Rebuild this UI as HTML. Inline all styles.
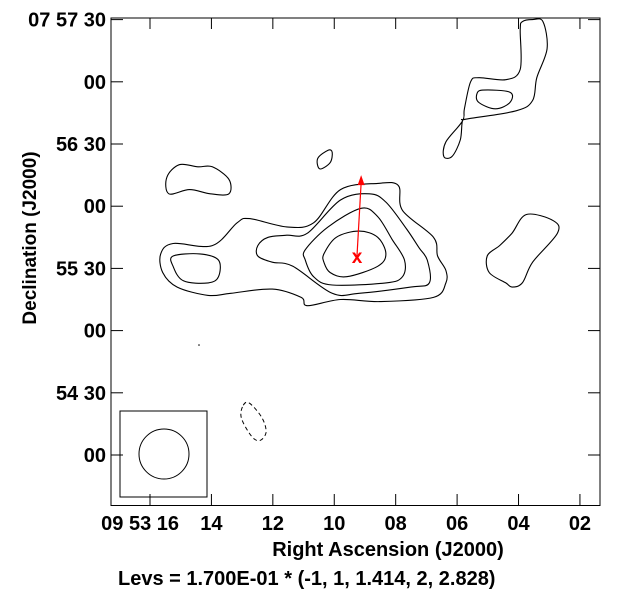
<!DOCTYPE html>
<html><head><meta charset="utf-8"><style>
html,body{margin:0;padding:0;background:#fff}
svg text{font-family:"Liberation Sans",Arial,sans-serif;font-weight:bold;font-size:20px;fill:#000}
</style></head><body>
<svg id="chart" width="629" height="598" viewBox="0 0 629 598" xmlns="http://www.w3.org/2000/svg">
<rect x="111" y="18" width="489" height="487.5" fill="none" stroke="#000" stroke-width="1"/>
<g id="ticks"></g>
<g id="contours"></g>
<rect x="120" y="411" width="87" height="86" fill="none" stroke="#000"/>
<circle cx="164" cy="454" r="25" fill="none" stroke="#000"/>
<circle cx="199" cy="345" r="0.8" fill="#000"/>
<text x="388" y="556" text-anchor="middle">Right Ascension (J2000)</text>
<text x="0" y="0" text-anchor="middle" transform="translate(36,238) rotate(-90)" style="font-size:19px">Declination (J2000)</text>
<text x="118" y="585">Levs = 1.700E-01 * (-1, 1, 1.414, 2, 2.828)</text>
</svg>
<script>
const xTickSec=[16,14,12,10,8,6,4,2];
const xTickLabels=["09 53 16","14","12","10","08","06","04","02"];
const yTickDec=[210,180,150,120,90,60,30,0];
const yTickLabels=["07 57 30","00","56 30","00","55 30","00","54 30","00"];
// source position (RA seconds, Dec arcsec above 07 54 00)
const srcRA=9.26, srcDec=96;
// contours: offsets [east arcsec, north arcsec] from source
const outer1=[[95,1],[89,6],[70,5],[58,16],[52,18],[34,14],[21,16],[8,32],[-10,35],[-20,34],[-22,22],[-37,9],[-39,0],[-43,-7],[-43,-13],[-37,-20],[-11,-22],[8,-21],[24,-24],[27,-20],[41,-16],[61,-18],[72,-19],[87,-15],[94,-8]];
const island1=[[89,0],[76,1],[67,-2],[67,-10],[72,-13],[84,-12],[89,-5]];
const level2=[[48,5],[43,9],[34,10],[24,11],[8,27],[-6,30],[-14,26],[-24,13],[-30,4],[-34,-2],[-35,-13],[-26,-15],[-1,-18],[12,-18],[31,-5],[41,-3],[48,0]];
const level3=[[25,3],[14,14],[-2,23],[-10,19],[-17,8],[-23,-2],[-22,-10],[-14,-13],[12,-14],[21,-10],[25,-2]];
const level4=[[16,1],[10,9],[-1,12],[-10,9],[-14,1],[-10,-5],[5,-10],[13,-8],[16,-3]];
const blobNW=[[92,38],[86,44],[77,43],[70,43],[62,37],[62,30],[71,30],[81,32],[91,30]];
const blobSmall=[[19,47],[14,51],[12,50],[13,45],[18,42]];
const blobNE=[[-80,113],[-85,114],[-90,113],[-92,100],[-87,86],[-85,75],[-77,70],[-53,66],[-51,65],[-50,56],[-46,48],[-42,48],[-43,55],[-51,65],[-52,71],[-55,84],[-59,86],[-72,85],[-79,90],[-79,109]];
const blobNEinner=[[-58,78],[-61,80],[-74,79],[-74,74],[-67,71],[-59,74]];
const blobE=[[-82,20],[-95,17],[-97,11],[-85,-3],[-80,-13],[-75,-15],[-72,-13],[-64,-8],[-63,0],[-69,5],[-75,11]];
const negBlob=[[55,-72],[52,-71],[46,-78],[44,-85],[47,-89],[51,-87],[56,-78]];
const arrowTip=[-2,39];

const NS="http://www.w3.org/2000/svg";
function xS(s){return 150+(16-s)*30.71;}
function yS(d){return 455-d*2.0733;}
function offX(e){return xS(srcRA+e/14.86);}
function offY(n){return yS(srcDec+n);}
function mk(tag,attrs,parent){const el=document.createElementNS(NS,tag);for(const k in attrs)el.setAttribute(k,attrs[k]);parent.appendChild(el);return el;}
const tg=document.getElementById('ticks');
xTickSec.forEach((s,i)=>{
  const x=xS(s);
  const t1=mk('line',{x1:x,y1:505.5,x2:x,y2:494,stroke:'#000'},tg);
  
  
  const t2=mk('line',{x1:x,y1:18,x2:x,y2:29,stroke:'#000'},tg);
  
  
  const tx=mk('text',{x:i===0?x+29:x,y:530,'text-anchor':i===0?'end':'middle'},tg);
  tx.textContent=xTickLabels[i];
  
  
});
yTickDec.forEach((d,i)=>{
  const y=yS(d);
  const t1=mk('line',{x1:111,y1:y,x2:123,y2:y,stroke:'#000'},tg);
  
  
  const t2=mk('line',{x1:588,y1:y,x2:600,y2:y,stroke:'#000'},tg);
  
  
  const tx=mk('text',{x:106,y:y+7,'text-anchor':'end'},tg);
  tx.textContent=yTickLabels[i];
  
  
});
function smooth(pts){
  const p=pts.map(a=>[offX(a[0]),offY(a[1])]);const n=p.length;
  let d='M'+p[0][0].toFixed(1)+','+p[0][1].toFixed(1);
  for(let i=0;i<n;i++){
    const p0=p[(i-1+n)%n],p1=p[i],p2=p[(i+1)%n],p3=p[(i+2)%n];
    const c1=[p1[0]+(p2[0]-p0[0])/6,p1[1]+(p2[1]-p0[1])/6];
    const c2=[p2[0]-(p3[0]-p1[0])/6,p2[1]-(p3[1]-p1[1])/6];
    d+=' C'+c1.map(v=>v.toFixed(1))+' '+c2.map(v=>v.toFixed(1))+' '+p2.map(v=>v.toFixed(1));
  }
  return d+'Z';
}
const cg=document.getElementById('contours');
const list=[[outer1,'contour-level-1'],[island1,'contour-west-island'],[level2,'contour-level-2'],[level3,'contour-level-3'],[level4,'contour-level-4'],[blobNW,'contour-nw-blob'],[blobSmall,'contour-small-blob'],[blobNE,'contour-ne-blob'],[blobNEinner,'contour-ne-inner'],[blobE,'contour-east-blob']];
list.forEach(([pts,name])=>{
  const p=mk('path',{d:smooth(pts),fill:'none',stroke:'#000','stroke-width':1.1},cg);
  
  
});
const neg=mk('path',{d:smooth(negBlob),fill:'none',stroke:'#000','stroke-width':1,'stroke-dasharray':'4,3'},cg);


const sx=offX(0),sy=offY(0),ax=offX(arrowTip[0]),ay=offY(arrowTip[1]);
const ar=mk('line',{x1:sx,y1:sy,x2:ax,y2:ay+8,stroke:'#f00','stroke-width':1.2},cg);


const ah=mk('polygon',{points:`${ax},${ay} ${ax-3.5},${ay+10} ${ax+3.5},${ay+10}`,fill:'#f00'},cg);


const xm=mk('text',{x:sx,y:sy+7,'text-anchor':'middle',style:'fill:#f00;font-size:19px'},cg);
xm.textContent='x';


</script>
</body></html>
